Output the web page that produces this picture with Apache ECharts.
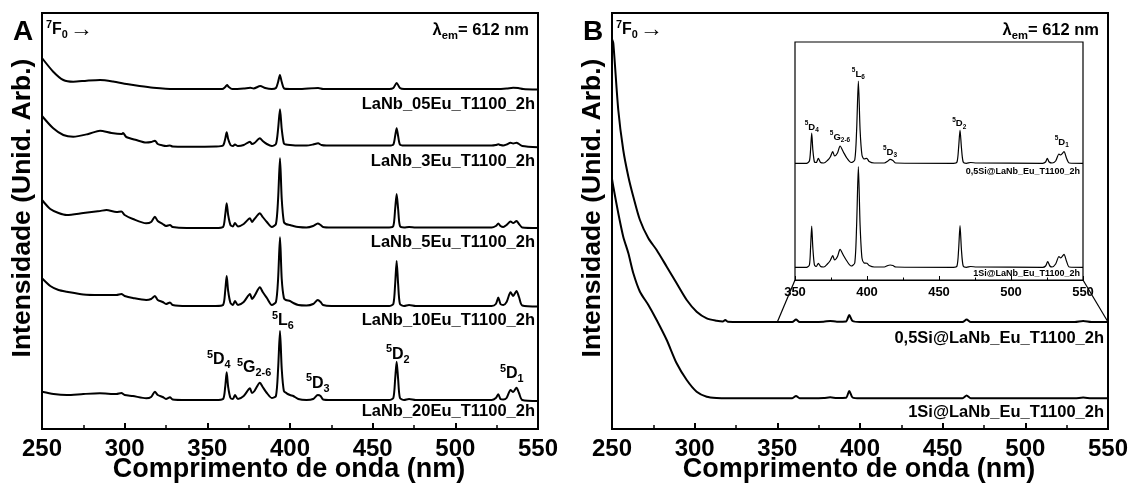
<!DOCTYPE html>
<html><head><meta charset="utf-8">
<script src="https://cdn.jsdelivr.net/npm/echarts@6/dist/echarts.min.js"></script>
<style>html,body{margin:0;padding:0;background:#fff}#c{width:1132px;height:486px}</style>
</head><body><div id="c"></div>
<script>
// ---------- DATA (wavelength nm, intensity arb. units incl. stacking offset) ----------
const xTicks = [250, 300, 350, 400, 450, 500, 550];
const insetTicks = [350, 400, 450, 500, 550];

const labelsA = ['LaNb_05Eu_T1100_2h','LaNb_3Eu_T1100_2h','LaNb_5Eu_T1100_2h','LaNb_10Eu_T1100_2h','LaNb_20Eu_T1100_2h'];
const labelsB = ['0,5Si@LaNb_Eu_T1100_2h','1Si@LaNb_Eu_T1100_2h'];

const eu05 = [[250,371],[256.8,357.3],[262.9,349],[268.9,347.3],[277,348.3],[285.1,349],[293,347.5],[301.2,345],[309,343],[317.3,341.3],[329.4,340],[340,340],[359,340],[360.8,342],[361.9,344],[363,342],[365,340],[372,340.5],[376,341.3],[378,340.5],[382,343],[385,341],[389,340],[391.5,341],[392.8,347],[393.9,354],[395,347],[396.5,340.5],[400,340],[405,340],[417,341],[420,340],[460,340],[462.5,341],[464.5,346],[466.5,341],[469,340],[525,340],[531,340.5],[535,341.3],[538,341],[541,340],[550,339.5]];

const eu3 = [[250,313],[256.8,300.7],[262.9,294],[268.9,292.3],[278,295],[285.1,298.3],[292,296],[298.2,295],[299,296],[301,292],[307,289],[313,286.5],[316,287],[318.3,288.3],[320,285],[323,283.5],[325,283],[327.4,283.5],[329,282.5],[337.5,282.3],[355,282.5],[359.5,283.5],[360.8,290],[361.7,296.7],[362.6,290],[364,284],[365.5,283],[366.7,284.5],[368.5,283],[372,284],[375.8,287.3],[377,285],[378.5,286],[381.8,290.7],[383.5,288],[386,285],[389,283],[391.5,285],[392.8,300],[393.95,319.7],[395,300],[396.3,285.5],[397.5,284.5],[400,284],[405,283.5],[410,283.5],[414,284.5],[417,285.7],[419,284],[422,283.5],[460,283.5],[462.5,284.5],[463.6,293],[464.5,300.7],[465.4,293],[466.5,284.5],[469,283.5],[522,283.5],[524.5,284],[526,284.7],[527.3,284],[529,283.5],[531,284.5],[533.4,286.3],[535,285.5],[537,286.3],[538.5,285],[540.5,283],[550,281.7]];

const eu5 = [[250,229],[255,220],[260,216],[265,214],[275,216],[285,218],[289,219],[295,217],[298,217.5],[300,214],[305,210],[313,205.7],[316,207],[318.3,212.3],[320,208],[323,205],[325,203],[327.4,204],[329,202],[337.5,201],[355,201],[359.5,202],[360.8,214],[361.7,225.7],[362.6,214],[364,204],[365.5,202.5],[366.7,206],[368.5,202.5],[372,205],[375.8,210.7],[377,207],[378.5,210],[381.8,215.7],[383.5,212],[386,207],[389,202],[391.5,205],[392.8,230],[393.95,270.7],[395,230],[396.3,207],[397.5,205],[400,204],[402,203],[405,202],[410,201.5],[414,203],[416.8,205.5],[418.5,204],[420,202],[425,201.5],[460,201.5],[462.5,203],[463.6,220],[464.5,235],[465.4,220],[466.5,203],[469,201.5],[472,202],[476,201.5],[522,201.5],[524.5,203],[526,205.5],[527.3,203],[529,202],[531,204],[533.4,207.5],[535,206],[537,208],[538.5,205],[540.5,201.5],[550,201]];

const eu10 = [[250,150.7],[255,143],[260,139],[265,137.3],[275,134.5],[285,134],[295,134],[298,135],[300,133],[305,131],[313,129],[316,130],[318.3,133],[320,129],[323,127],[325,125],[327.4,126.5],[329,124],[337.5,123],[355,123],[359.5,124],[360.8,138],[361.7,153],[362.6,138],[364,126],[365.5,124],[366.7,128],[368.5,124],[372,127],[375.8,135],[377,130],[378.5,133],[381.8,141.7],[383.5,137],[386,131],[389,124],[391.5,127],[392.8,150],[393.95,191.7],[395,150],[396.3,131],[397.5,129],[400,128],[402,126],[405,124],[410,123.5],[414,125],[416.8,129],[418.5,127],[420,124],[425,123],[460,123],[462.5,125],[463.6,145],[464.5,168],[465.4,145],[466.5,125],[469,123],[472,124],[476,123],[522,123],[524.5,125],[526,131.5],[527.3,125],[529,124],[531,127],[533.4,136.7],[535,133],[537,138],[538.5,132],[540.5,123.5],[550,122.5]];

const eu20 = [[250,37.3],[257,35],[265,34],[275,35],[285,35.7],[295,35],[298,36],[300,34],[305,33],[313,30.7],[316,32],[318.3,37.3],[320,34],[323,32],[325,30],[327.4,31.7],[329,29.5],[337.5,29],[355,29],[359.5,30],[360.8,42],[361.7,56.7],[362.6,42],[364,31],[365.5,30],[366.7,34],[368.5,30],[372,33],[375.8,40.7],[377,36],[378.5,38],[381.8,46.3],[383.5,42],[386,36],[389,31],[391.5,33],[392.8,60],[393.95,98],[395,60],[396.3,38],[398,35.7],[400,34],[402,33],[405,30],[410,29],[414,30],[416.8,34],[418.5,33],[420,29.5],[425,29],[460,29],[462.5,31],[463.6,50],[464.5,67.3],[465.4,50],[466.5,31],[469,29],[472,30],[476,29],[522,29],[524.5,31],[526,34.7],[527.3,30],[529,29.5],[531,31],[533.4,39],[535,37],[537,41.3],[538.5,36],[540.5,29],[550,28]];

const si05 = [[250,390],[250.8,385.7],[253.8,319],[256.8,279],[259.9,252.3],[262.9,232.3],[266.9,209],[272,190.7],[277,179],[283.1,162.3],[289.1,145.7],[295.2,129],[301.2,117.3],[307.3,110.7],[313.3,108.3],[317,107.5],[318.5,109],[320,107.3],[340,107],[359,107],[361.3,109.5],[363.5,107],[378,107.3],[382,108],[386,107.3],[391.5,107.5],[393.5,114],[395.5,108],[400,107],[462,107],[464.5,109.5],[467,107],[530,107],[535,108],[540,107],[550,107]];

const si1 = [[250,250],[250.8,242.3],[253.8,215.7],[256.8,192.3],[259.9,175.7],[262.9,155.7],[266.9,137.3],[272,124],[277,109],[283.1,89],[289.1,65.7],[295.2,49],[301.2,37.3],[307.3,32.3],[313.3,31],[320,30.7],[359,30.7],[361.3,33],[363.5,30.7],[378,31],[382,31.7],[386,31],[391.5,31.2],[393.5,38],[395.5,31.5],[400,30.7],[462,30.7],[464.5,33.5],[467,30.7],[530,30.7],[535,31.5],[540,30.7],[550,30.7]];

const inset05 = [[350,116.7],[358,116.7],[360,119],[360.8,130],[361.6,147],[362.4,130],[363.5,118],[364.8,117.5],[366.2,121.7],[367.8,117.5],[370,117],[372.5,119.5],[374.5,123],[376.2,128.3],[377.5,124],[379.5,127],[381.3,134],[383.5,128.3],[386,122],[389,117.5],[391.5,120],[392.8,150],[394,199],[395.2,150],[396.5,125],[398,121],[399.8,121.7],[401.5,118.5],[405,117],[412,117],[414.5,119],[416,120.7],[418,119.5],[420,117],[460,116.7],[462.5,118],[463.6,132],[464.6,150],[465.6,132],[466.8,118],[469,116.7],[472,117.5],[476,117],[522,116.7],[524,118],[525.2,121.7],[526.5,118],[528.5,117],[531,119],[533.3,126],[534.5,125],[536.8,128.3],[538.5,122],[540.5,117],[550,116.7]];

const inset1 = [[350,12.7],[358,12.7],[360,15],[360.8,32],[361.6,54],[362.4,32],[363.5,15],[364.8,13.5],[366.2,16.7],[367.8,13.5],[370,13],[372.5,16],[374.5,19.5],[376.2,24.3],[377.5,20],[379.5,23.5],[381.3,30.7],[383.5,25],[386,19],[389,14],[391.5,17],[392.8,55],[394,113.3],[395.2,55],[396.5,22],[398,17],[400,16.7],[401.5,14.5],[405,13],[412,13],[414.5,14.5],[416,15],[418,14.5],[420,13],[460,12.7],[462.5,14],[463.6,30],[464.6,54.3],[465.6,30],[466.8,14],[469,12.7],[472,13.5],[476,13],[522,12.7],[524,14],[525.5,18.3],[527,14],[528.5,13],[531,16],[533.3,23.5],[534.5,22],[536.8,25.7],[538.5,19],[540.5,13],[550,12.7]];

// ---------- CHART ----------
const FONT = '"Liberation Sans", Arial, sans-serif';
const chart = echarts.init(document.getElementById('c'), null, {renderer: 'canvas'});

function xAxisMain(gi) {
  return {
    type: 'value', gridIndex: gi, min: 250, max: 550, interval: 50,
    axisLine: {show: true, lineStyle: {color: '#000', width: 2}},
    axisTick: {show: true, inside: true, length: 6, lineStyle: {color: '#000', width: 2}},
    minorTick: {show: true, splitNumber: 2, length: 4, lineStyle: {color: '#000', width: 1.5}},
    splitLine: {show: false},
    axisLabel: {show: true, color: '#000', fontSize: 24, fontWeight: 'bold', fontFamily: FONT, margin: 8,
      customValues: xTicks}
  };
}
function yAxis(gi, max) {
  return {type: 'value', gridIndex: gi, min: 0, max: max, show: false, splitLine: {show: false}};
}
function line(data, xi, yi, w) {
  return {type: 'line', xAxisIndex: xi, yAxisIndex: yi, data: data, showSymbol: false, symbol: 'none',
    smooth: 0.25, lineStyle: {color: '#000', width: w}, silent: true, animation: false, z: 3};
}

const option = {
  backgroundColor: '#fff',
  animation: false,
  grid: [
    {left: 42, top: 13, width: 496, height: 416, show: true, borderColor: '#000', borderWidth: 2, backgroundColor: 'transparent'},
    {left: 612, top: 13, width: 496, height: 416, show: true, borderColor: '#000', borderWidth: 2, backgroundColor: 'transparent'},
    {left: 795, top: 42, width: 288, height: 238, show: true, borderColor: '#000', borderWidth: 1.2, backgroundColor: '#fff', z: 5}
  ],
  xAxis: [
    xAxisMain(0), xAxisMain(1),
    {type: 'value', gridIndex: 2, min: 350, max: 550, interval: 50, z: 6,
     axisLine: {show: true, lineStyle: {color: '#000', width: 1.2}},
     axisTick: {show: true, inside: true, length: 4, lineStyle: {color: '#000', width: 1}},
     minorTick: {show: true, splitNumber: 2, length: 2.5, lineStyle: {color: '#000', width: 1}},
     splitLine: {show: false},
     axisLabel: {color: '#000', fontSize: 13, fontWeight: 'bold', fontFamily: FONT, margin: 6}}
  ],
  yAxis: [yAxis(0, 416), yAxis(1, 416), yAxis(2, 238)],
  series: [
    line(eu05, 0, 0, 2), line(eu3, 0, 0, 2), line(eu5, 0, 0, 2), line(eu10, 0, 0, 2), line(eu20, 0, 0, 2),
    line(si05, 1, 1, 2), line(si1, 1, 1, 2),
    Object.assign(line(inset05, 2, 2, 1.2), {z: 7}), Object.assign(line(inset1, 2, 2, 1.2), {z: 7})
  ]
};
chart.setOption(option);

// ---------- annotations ----------
function rich(base) {
  return {
    b: {fontSize: base, fontWeight: 'bold', fontFamily: FONT, fill: '#000', lineHeight: base * 1.35},
    arr: {fontSize: base * 1.45, fontWeight: 'bold', fontFamily: FONT, fill: '#000', lineHeight: base * 1.35, padding: [0, 0, 0, 2]},
    sup: {fontSize: base * 0.68, fontWeight: 'bold', fontFamily: FONT, fill: '#000', verticalAlign: 'top', lineHeight: base * 0.7},
    sub: {fontSize: base * 0.68, fontWeight: 'bold', fontFamily: FONT, fill: '#000', verticalAlign: 'bottom', lineHeight: base * 0.7}
  };
}
function txt(x, y, text, size, align, extra) {
  return Object.assign({
    type: 'text', x: x, y: y, z: 20,
    style: {text: text, rich: rich(size), fill: '#000', fontSize: size, fontWeight: 'bold', fontFamily: FONT,
      align: align || 'left', verticalAlign: 'middle'}
  }, extra || {});
}
const g = [];
// Panel letters and headers
[[0, 'A'], [570, 'B']].forEach(function (p) {
  const dx = p[0];
  g.push(txt(23 + dx, 32, '{b|' + p[1] + '}', 28, 'center'));
  g.push(txt(46 + dx, 30, '{sup|7}{b|F}{sub|0}{arr|→}', 16, 'left'));
  g.push(txt(529 + dx, 30, '{b|λ}{sub|em}{b|= 612 nm}', 16.5, 'right'));
  g.push(txt(23 + dx, 208, 'Intensidade (Unid. Arb.)', 26.5, 'center', {rotation: Math.PI / 2}));
  g.push(txt(289 + dx, 470, 'Comprimento de onda (nm)', 27, 'center'));
});
// sample labels
const labYA = [104, 161, 242, 320.5, 411];
labelsA.forEach(function (s, i) { g.push(txt(535, labYA[i], s, 16.5, 'right')); });
const labYB = [338, 412];
labelsB.forEach(function (s, i) { g.push(txt(1104, labYB[i], s, 16.5, 'right')); });
// peak labels, panel A
[['{sup|5}{b|D}{sub|4}', 207, 360], ['{sup|5}{b|G}{sub|2-6}', 237, 368], ['{sup|5}{b|L}{sub|6}', 272, 321],
 ['{sup|5}{b|D}{sub|3}', 306, 383.5], ['{sup|5}{b|D}{sub|2}', 386, 354.5], ['{sup|5}{b|D}{sub|1}', 500, 374]
].forEach(function (p) { g.push(txt(p[1], p[2], p[0], 16, 'left')); });
// inset peak labels
[['{sup|5}{b|D}{sub|4}', 811.7, 127], ['{sup|5}{b|G}{sub|2-6}', 840, 137], ['{sup|5}{b|L}{sub|6}', 858.3, 74],
 ['{sup|5}{b|D}{sub|3}', 890, 152], ['{sup|5}{b|D}{sub|2}', 959.3, 123.5], ['{sup|5}{b|D}{sub|1}', 1061.7, 142]
].forEach(function (p) { g.push(txt(p[1], p[2], p[0], 9.5, 'center')); });
g.push(txt(1080, 172, labelsB[0], 9, 'right'));
g.push(txt(1080, 274, labelsB[1], 9, 'right'));

// connector lines from main panel B (350-550 nm at the 0,5Si baseline) to inset corners
function valAt(arr, x) {
  for (let i = 1; i < arr.length; i++) {
    if (arr[i][0] >= x) {
      const a = arr[i - 1], b = arr[i];
      return a[1] + (b[1] - a[1]) * (x - a[0]) / (b[0] - a[0]);
    }
  }
  return arr[arr.length - 1][1];
}
const insetMin = insetTicks[0], insetMax = insetTicks[insetTicks.length - 1];
const mL = chart.convertToPixel({gridIndex: 1}, [insetMin, valAt(si05, insetMin)]);
const mR = chart.convertToPixel({gridIndex: 1}, [insetMax, valAt(si05, insetMax)]);
const iL = chart.convertToPixel({gridIndex: 2}, [insetMin, 0]);
const iR = chart.convertToPixel({gridIndex: 2}, [insetMax, 0]);
[[mL, iL], [mR, iR]].forEach(function (p) {
  g.push({type: 'line', z: 4, shape: {x1: p[0][0], y1: p[0][1], x2: p[1][0], y2: p[1][1]},
    style: {stroke: '#000', lineWidth: 1.2}});
});
chart.setOption({graphic: g});
</script>
</body></html>
